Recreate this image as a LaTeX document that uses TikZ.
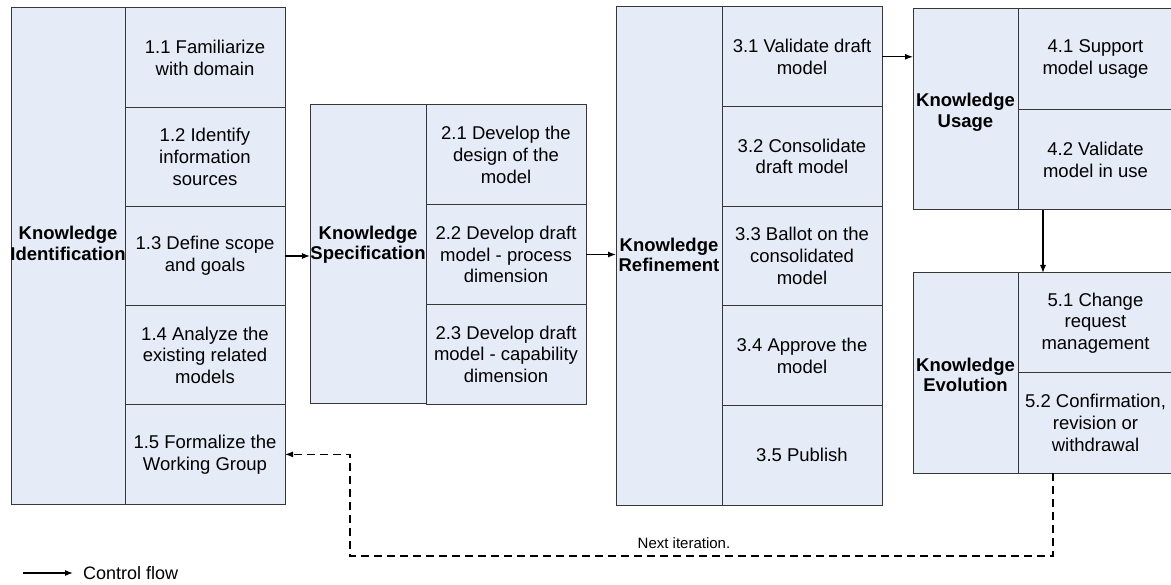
\documentclass[tikz,border=0pt]{standalone}
\usepackage{fontspec}
\setmainfont{Liberation Sans}
\usetikzlibrary{arrows.meta}
\definecolor{cellfill}{RGB}{230,236,247}
\definecolor{cellline}{RGB}{55,55,55}
\tikzset{
  cell/.style={draw=cellline, fill=cellfill, line width=1pt, inner sep=0pt, outer sep=0pt,
    align=center, font=\fontsize{18.5}{21.7}\selectfont},
  ttl/.style={align=center, inner sep=0pt, font=\fontsize{18.5}{20.5}\selectfont\bfseries},
  flow/.style={line width=1.2pt, -{Latex[length=8pt,width=6pt]}},
  back/.style={line width=1.1pt, dash pattern=on 8pt off 5pt, -{Latex[length=8pt,width=6pt]}},
}
\begin{document}
\begin{tikzpicture}[x=1pt,y=-1pt]
\useasboundingbox (0,0) rectangle (1171,585);
% Block 1
\node[cell, minimum width=114pt, minimum height=496pt] (k1) at (68,256) {};
\node[cell, minimum width=160pt, minimum height=99.2pt] (c11) at (205,57.6) {1.1 Familiarize\\with domain};
\node[cell, minimum width=160pt, minimum height=99.2pt] (c12) at (205,156.8) {1.2 Identify\\information\\sources};
\node[cell, minimum width=160pt, minimum height=99.2pt] (c13) at (205,256) {1.3 Define scope\\and goals};
\node[cell, minimum width=160pt, minimum height=99.2pt] (c14) at (205,355.2) {1.4 Analyze the\\existing related\\models};
\node[cell, minimum width=160pt, minimum height=99.2pt] (c15) at (205,454.4) {1.5 Formalize the\\Working Group};
\node[ttl] (t1) at (68,243.5) {Knowledge\\Identification};
% Block 2
\node[cell, minimum width=116pt, minimum height=299pt] (k2) at (368,254.5) {};
\node[cell, minimum width=160pt, minimum height=99.67pt] (c21) at (506,154.8) {2.1 Develop the\\design of the\\model};
\node[cell, minimum width=160pt, minimum height=99.67pt] (c22) at (506,254.5) {2.2 Develop draft\\model - process\\dimension};
\node[cell, minimum width=160pt, minimum height=99.67pt] (c23) at (506,354.2) {2.3 Develop draft\\model - capability\\dimension};
\node[ttl] (t2) at (368,244.5) {Knowledge\\Specification};
% Block 3
\node[cell, minimum width=106pt, minimum height=498pt] (k3) at (669,256) {};
\node[cell, minimum width=160pt, minimum height=99.6pt] (c31) at (802,56.8) {3.1 Validate draft\\model};
\node[cell, minimum width=160pt, minimum height=99.6pt] (c32) at (802,156.4) {3.2 Consolidate\\draft model};
\node[cell, minimum width=160pt, minimum height=99.6pt] (c33) at (802,256) {3.3 Ballot on the\\consolidated\\model};
\node[cell, minimum width=160pt, minimum height=99.6pt] (c34) at (802,355.6) {3.4 Approve the\\model};
\node[cell, minimum width=160pt, minimum height=99.6pt] (c35) at (802,455.2) {3.5 Publish};
\node[ttl] (t3) at (669,255) {Knowledge\\Refinement};
% Block 4
\node[cell, minimum width=105pt, minimum height=201pt] (k4) at (965.5,109.5) {};
\node[cell, minimum width=155pt, minimum height=100.5pt] (c41) at (1095.5,59.25) {4.1 Support\\model usage};
\node[cell, minimum width=155pt, minimum height=100.5pt] (c42) at (1095.5,159.75) {4.2 Validate\\model in use};
\node[ttl] (t4) at (965.5,112.5) {Knowledge\\Usage};
% Block 5
\node[cell, minimum width=105pt, minimum height=200pt] (k5) at (965.5,373) {};
\node[cell, minimum width=155pt, minimum height=100pt] (c51) at (1095.5,323) {5.1 Change\\request\\management};
\node[cell, minimum width=155pt, minimum height=100pt] (c52) at (1095.5,423) {5.2 Confirmation,\\revision or\\withdrawal};
\node[ttl] (t5) at (965.5,375) {Knowledge\\Evolution};
% Control flow
\draw[flow] (c13.east) -- (c13.east -| k2.west);
\draw[flow] (c22.east) -- (c22.east -| k3.west);
\draw[flow] (c31.east) -- (c31.east -| k4.west);
\draw[flow] ([xshift=25pt]c42.south west) -- ([xshift=25pt]c51.north west);
% Next iteration
\coordinate (d2) at (350,556);
\draw[back] ([xshift=35pt]c52.south west) |- (d2) |- (c15.east);
\node[inner sep=0pt, font=\fontsize{15}{17}\selectfont] (nx) at (684,543) {Next iteration.};
% Legend
\coordinate (lg) at (23,573);
\node[inner sep=0pt, anchor=west, font=\fontsize{18}{20}\selectfont] (lgt) at (83,573) {Control flow};
\draw[flow] (lg) -- ([xshift=-10pt]lgt.west);
\end{tikzpicture}
\end{document}
